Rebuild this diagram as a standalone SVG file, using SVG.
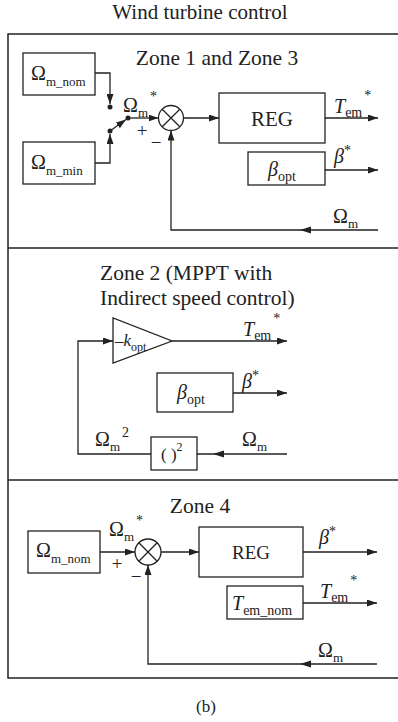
<svg xmlns="http://www.w3.org/2000/svg" width="398" height="722" viewBox="0 0 398 722">
<style>
text{font-family:"Liberation Serif","Times New Roman",serif;fill:#222}
.t{font-size:21px}
.h{font-size:21.5px}
.z{font-size:20px}
.s{font-size:13px}
.st{font-size:14px}
.i{font-style:italic}
.ln{fill:none;stroke:#222;stroke-width:1.3}
.bx{fill:#fff;stroke:#222;stroke-width:1.3}
.ar{marker-end:url(#a)}
.dot{fill:#222}
</style>
<defs>
<marker id="a" markerUnits="userSpaceOnUse" markerWidth="10" markerHeight="7" refX="10" refY="3.5" orient="auto">
<path d="M0,0 L10,3.5 L0,7 z" fill="#222"/>
</marker>
</defs>
<text class="t" x="200" y="19" text-anchor="middle">Wind turbine control</text>
<g id="frame">
<path class="ln" d="M398,34 H8 V678 H398" style="stroke-width:1.5"/>
<path class="ln" d="M8,248 H398 M8,480 H398" style="stroke-width:1.5"/>
</g>
<g id="connectors">
<path class="ln ar" d="M95,73 H110 V104"/>
<path class="ln ar" d="M95,163 H110 V134"/>
<path class="ln ar" d="M110,131 L126,119.5"/>
<path class="ln ar" d="M128,118 H158.5"/>
<path class="ln ar" d="M183.5,118 H219"/>
<path class="ln ar" d="M325,118 H378"/>
<path class="ln ar" d="M325,170 H378"/>
<path class="ln ar" d="M378,230 H171 V130.5"/>
<polygon points="300,230 311,226.5 311,233.5" fill="#222"/>
<path class="ln ar" d="M151,454 H78 V341 H113"/>
<path class="ln ar" d="M172,341 H287"/>
<path class="ln ar" d="M233,393 H287"/>
<path class="ln" d="M287,454 H197"/>
<polygon points="213,454 224,450.5 224,457.5" fill="#222"/>
<path class="ln ar" d="M100,552 H135"/>
<path class="ln ar" d="M161,552 H199"/>
<path class="ln ar" d="M303,552 H377"/>
<path class="ln ar" d="M303,603 H377"/>
<path class="ln ar" d="M377,664 H148 V565"/>
<polygon points="300,664 311,660.5 311,667.5" fill="#222"/>
</g>
<g id="zone1-title"><text class="h" x="217" y="65" text-anchor="middle">Zone 1 and Zone 3</text></g>
<g id="z1-wnom">
<rect class="bx" x="23" y="53" width="72" height="42"/>
<text class="z" x="31" y="80">Ω<tspan class="s" dy="6">m_nom</tspan></text>
</g>
<g id="z1-wmin">
<rect class="bx" x="23" y="142" width="72" height="42"/>
<text class="z" x="31" y="169">Ω<tspan class="s" dy="6">m_min</tspan></text>
</g>
<g id="z1-switch">
<circle class="dot" cx="110" cy="107" r="2.5"/>
<circle class="dot" cx="110" cy="131" r="2.5"/>
<circle class="dot" cx="128" cy="118" r="2.5"/>
<text class="z" x="123" y="112">Ω<tspan class="s" dy="5">m</tspan><tspan class="st" dy="-16" dx="2">*</tspan></text>
<text style="font-size:19px" x="142" y="137" text-anchor="middle">+</text>
<text style="font-size:19px" x="156" y="149" text-anchor="middle">−</text>
</g>
<g id="z1-sum">
<circle class="bx" cx="171" cy="118" r="12.5"/>
<path class="ln" d="M162.2,109.2 L179.8,126.8 M162.2,126.8 L179.8,109.2"/>
</g>
<g id="z1-reg">
<rect class="bx" x="219" y="93" width="106" height="50"/>
<text x="272" y="126" text-anchor="middle" style="font-size:21px">REG</text>
</g>
<g id="z1-beta">
<rect class="bx" x="248" y="152" width="77" height="33"/>
<text class="z i" x="268" y="176">β<tspan class="st" dy="5" style="font-style:normal">opt</tspan></text>
</g>
<g id="z1-labels">
<text class="z i" x="334" y="113">T<tspan class="st" dy="4" style="font-style:normal">em</tspan><tspan class="st" dy="-17" dx="2" style="font-style:normal">*</tspan></text>
<text class="z i" x="334" y="163">β<tspan class="st" dy="-8" style="font-style:normal">*</tspan></text>
<text class="z" x="333" y="223">Ω<tspan class="s" dy="5">m</tspan></text>
</g>
<g id="zone2-title">
<text class="h" x="100" y="280">Zone 2 (MPPT with</text>
<text class="h" x="100" y="305">Indirect speed control)</text>
</g>
<g id="z2-gain">
<polygon class="bx" points="113,318 113,363 172,341"/>
<text x="115" y="346" style="font-size:17px">–<tspan class="i">k</tspan><tspan style="font-size:12px" dy="5">opt</tspan></text>
</g>
<g id="z2-beta">
<rect class="bx" x="157" y="373" width="76" height="39"/>
<text class="z i" x="177" y="399">β<tspan class="st" dy="5" style="font-style:normal">opt</tspan></text>
</g>
<g id="z2-square">
<rect class="bx" x="151" y="437" width="46" height="33"/>
<text x="161" y="460" style="font-size:17px">( )<tspan style="font-size:12px" dy="-9">2</tspan></text>
</g>
<g id="z2-labels">
<text class="z i" x="243" y="336">T<tspan class="st" dy="4" style="font-style:normal">em</tspan><tspan class="st" dy="-17" dx="2" style="font-style:normal">*</tspan></text>
<text class="z i" x="242" y="388">β<tspan class="st" dy="-8" style="font-style:normal">*</tspan></text>
<text class="z" x="95" y="446">Ω<tspan class="s" dy="5">m</tspan><tspan class="st" dy="-14" dx="2">2</tspan></text>
<text class="z" x="242" y="446">Ω<tspan class="s" dy="5">m</tspan></text>
</g>
<g id="zone4-title"><text class="h" x="200" y="513" text-anchor="middle">Zone 4</text></g>
<g id="z4-wnom">
<rect class="bx" x="28" y="531" width="72" height="42"/>
<text class="z" x="36" y="557">Ω<tspan class="s" dy="6">m_nom</tspan></text>
</g>
<g id="z4-sum">
<circle class="bx" cx="148" cy="552" r="13"/>
<path class="ln" d="M138.8,542.8 L157.2,561.2 M138.8,561.2 L157.2,542.8"/>
<text class="z" x="109" y="536">Ω<tspan class="s" dy="5">m</tspan><tspan class="st" dy="-16" dx="2">*</tspan></text>
<text style="font-size:19px" x="117" y="570" text-anchor="middle">+</text>
<text style="font-size:19px" x="136" y="583" text-anchor="middle">−</text>
</g>
<g id="z4-reg">
<rect class="bx" x="199" y="527" width="104" height="50"/>
<text x="251" y="559" text-anchor="middle" style="font-size:19px">REG</text>
</g>
<g id="z4-tnom">
<rect class="bx" x="227" y="586" width="76" height="33"/>
<text class="z i" x="232" y="610">T<tspan class="st" dy="5" style="font-style:normal">em_nom</tspan></text>
</g>
<g id="z4-labels">
<text class="z i" x="319" y="544">β<tspan class="st" dy="-8" style="font-style:normal">*</tspan></text>
<text class="z i" x="320" y="598">T<tspan class="st" dy="4" style="font-style:normal">em</tspan><tspan class="st" dy="-17" dx="2" style="font-style:normal">*</tspan></text>
<text class="z" x="318" y="657">Ω<tspan class="s" dy="5">m</tspan></text>
</g>
<text x="206" y="712" text-anchor="middle" style="font-size:17px">(b)</text>
</svg>
